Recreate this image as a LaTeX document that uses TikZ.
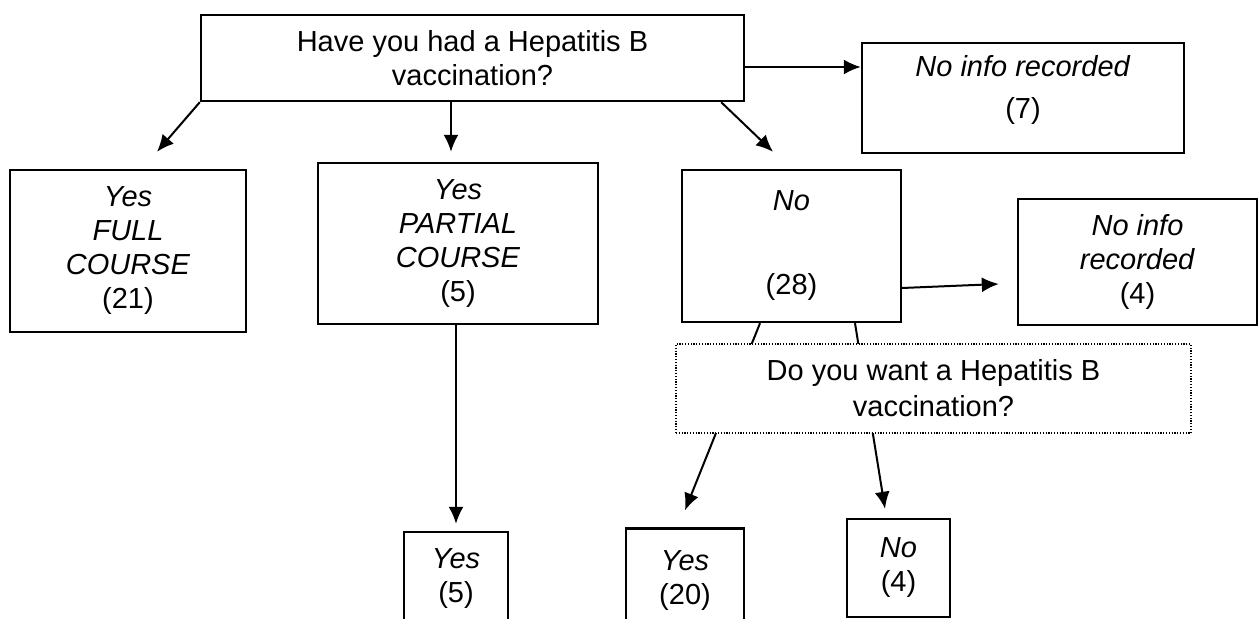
\documentclass[tikz,border=0pt]{standalone}
\usepackage{fontspec}
\setmainfont{Liberation Sans}
\usepackage{tikz}
\usetikzlibrary{arrows.meta,positioning}
\tikzstyle{box}=[draw, line width=1.2pt, align=center, inner sep=0pt]
\tikzstyle{qbox}=[draw, fill=white, line width=0.6pt, dash pattern=on 0.6pt off 0.8pt, align=center, inner sep=0pt]
\tikzstyle{arr}=[-{Latex[length=8.5pt,width=7.5pt]}, line width=1pt]

\begin{document}
\begin{tikzpicture}[x=0.5pt,y=-0.5pt,font=\fontsize{14.5}{17}\selectfont]
\useasboundingbox (0,0) rectangle (1258,619);
\clip (0,0) rectangle (1258,619);

\node[box, minimum width=271.5pt, minimum height=43pt] at (472.5,58) (q1) {Have you had a Hepatitis B\\vaccination?};
\node[box, minimum width=161pt, minimum height=55pt] at (1023,98) (info1) {\textit{No info recorded}\\[4pt](7)\\[-6pt]\mbox{}};
\draw[arr] ([yshift=-4.5pt]q1.east) -- ([yshift=-4.5pt]q1.east -| info1.west);

% first level answers
\node[box, minimum width=118pt, minimum height=81pt] at (128,251) (full) {\textit{Yes}\\\textit{FULL}\\\textit{COURSE}\\(21)};
\node[box, minimum width=140pt, minimum height=80.5pt] at (458,243.5) (partial) {\textit{Yes}\\\textit{PARTIAL}\\\textit{COURSE}\\(5)};
\node[box, minimum width=109.5pt, minimum height=76pt] at (791.5,246) (no) {\textit{No}\\[4pt]\mbox{}\\[4pt](28)};
\node[box, minimum width=119.5pt, minimum height=63pt] at (1137.5,262) (info2) {\textit{No info}\\\textit{recorded}\\(4)};

\draw[arr] (q1.south west) -- ([shift={(14.5pt,8.5pt)}]full.north);
\draw[arr] ([xshift=-3.5pt]partial.north |- q1.south) -- ([xshift=-3.5pt,yshift=5pt]partial.north);
\draw[arr] ([xshift=-12pt]q1.south east) -- ([shift={(-9.25pt,8.5pt)}]no.north);
\draw[arr] ([yshift=-21pt]no.east) -- ([shift={(-9pt,-11pt)}]info2.west);

% second level answers
\node[box, minimum width=52pt, minimum height=46.5pt] at (456,578.5) (yes5) {\textit{Yes}\\(5)};
\node[box, minimum width=59pt, minimum height=52.5pt] at (685,581) (yes20) {\textit{Yes}\\(20)};
\node[box, minimum width=51.5pt, minimum height=49pt] at (898.5,568) (no4) {\textit{No}\\(4)};

\draw[arr] (yes5.north |- partial.south) -- ([yshift=3.5pt]yes5.north);
\draw[arr] ([xshift=-15.75pt]no.south) -- ([yshift=8.5pt]yes20.north);
\draw[arr] ([xshift=31.75pt]no.south) -- ([shift={(-6.75pt,4.5pt)}]no4.north);

% question box lies over the two arrows
\node[qbox, minimum width=257.5pt, minimum height=44.5pt] at (933.5,388.5) (q2) {Do you want a Hepatitis B\\[1pt]vaccination?};
\end{tikzpicture}
\end{document}
